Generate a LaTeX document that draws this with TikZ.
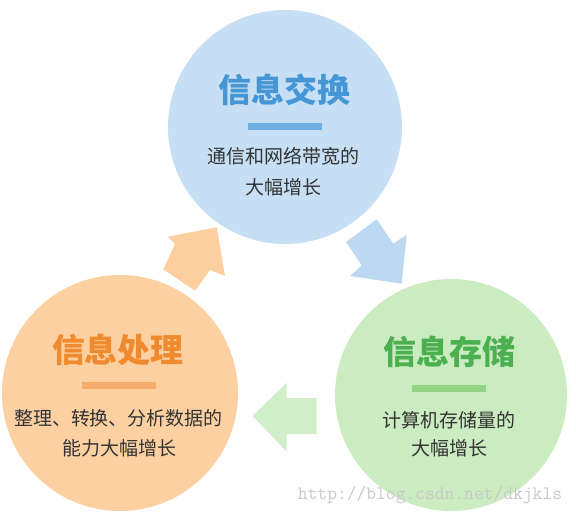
\documentclass[tikz,border=0pt]{standalone}
\usepackage{fontspec}
\newfontfamily\cjk{Noto Sans CJK SC}
\definecolor{bluec}{HTML}{C6DFF4}
\definecolor{bluea}{HTML}{BCD8F3}
\definecolor{bluet}{HTML}{4596D5}
\definecolor{blueb}{HTML}{6EAEE2}
\definecolor{orangec}{HTML}{FDD0A2}
\definecolor{orangea}{HTML}{FDCF9F}
\definecolor{oranget}{HTML}{EF8A2E}
\definecolor{orangeb}{HTML}{F5AD6C}
\definecolor{greenc}{HTML}{CBEBC0}
\definecolor{greena}{HTML}{D0EFC8}
\definecolor{greent}{HTML}{4CAF50}
\definecolor{greenb}{HTML}{92D684}
\definecolor{subtext}{HTML}{333333}
\definecolor{wmark}{HTML}{C8C8C8}
\tikzset{
  bigcircle/.style={circle, inner sep=0pt, draw=none},
  titletext/.style={inner sep=0pt, font=\cjk\bfseries\fontsize{33}{36}\selectfont},
  subtext/.style={inner sep=0pt, text=subtext, font=\cjk\fontsize{19}{22}\selectfont},
  barbox/.style={inner sep=0pt, minimum width=74pt, minimum height=7pt, draw=none},
}
\begin{document}
\begin{tikzpicture}[x=1pt,y=-1pt]
\useasboundingbox (0,0) rectangle (576,516);
% circles
\node[bigcircle, fill=bluec, minimum size=234pt] (ex) at (285,127) {};
\node[bigcircle, fill=orangec, minimum size=236pt] (pr) at (120,393) {};
\node[bigcircle, fill=greenc, minimum size=232pt] (st) at (451,395) {};
% arrows
\fill[orangea] (216.7,227.3) -- (225,276) -- (210,270) -- (195,290.7) -- (163.3,269.3) -- (175,244) -- (167.7,236.7) -- cycle;
\fill[bluea] (376.7,219.3) -- (393.3,243.7) -- (406.7,234.7) -- (401.7,283.7) -- (350,276) -- (361.7,265.3) -- (346,242) -- cycle;
\fill[greena] (252.7,416) -- (286.7,382.7) -- (286.7,398) -- (316.7,398) -- (316.7,434) -- (286.7,434) -- (286.7,451.7) -- cycle;
% blue
\node[titletext, text=bluet] (ext) at (284,90) {信息交换};
\node[barbox, fill=blueb] (exb) at (285,127) {};
\node[subtext] (exs1) at (283.5,156) {通信和网络带宽的};
\node[subtext] (exs2) at (283.5,187) {大幅增长};
% orange
\node[titletext, text=oranget] (prt) at (118,350) {信息处理};
\node[barbox, fill=orangeb] (prb) at (118.5,385) {};
\node[subtext] (prs1) at (118.5,418) {整理、转换、分析数据的};
\node[subtext] (prs2) at (119,448) {能力大幅增长};
% green
\node[titletext, text=greent] (stt) at (449,352) {信息存储};
\node[barbox, fill=greenb] (stb) at (449,388) {};
\node[subtext] (sts1) at (449,420) {计算机存储量的};
\node[subtext] (sts2) at (449.5,448) {大幅增长};
% watermark
\node[inner sep=0pt, text=wmark, font=\ttfamily\fontsize{19}{22}\selectfont] (wm) at (430,495) {http://blog.csdn.net/dkjkls};
\end{tikzpicture}
\end{document}
